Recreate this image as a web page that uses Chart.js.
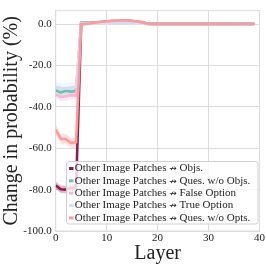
<!DOCTYPE html>
<html><head><meta charset="utf-8">
<script src="https://cdn.jsdelivr.net/npm/chart.js@4/dist/chart.umd.min.js"></script>
<style>html,body{margin:0;padding:0;background:#fff}#wrap{width:266px;height:266px;position:relative}</style>
</head><body><div id="wrap"><canvas id="c"></canvas></div>
<script>
const layers = [0,1,2,3,4,5,6,7,8,9,10,11,12,13,14,15,16,17,18,19,20,21,22,23,24,25,26,27,28,29,30,31,32,33,34,35,36,37,38,39];
const seriesLabels = [
  'Other Image Patches \u219B Objs.',
  'Other Image Patches \u219B Ques. w/o Objs.',
  'Other Image Patches \u219B False Option',
  'Other Image Patches \u219B True Option',
  'Other Image Patches \u219B Ques. w/o Opts.'
];
const seriesColors = ['#8a1d4b', '#6fc0aa', '#f8b6d6', '#d3def6', '#fd9a9a'];
const objs       = [-78.0,-79.8,-80.0,-79.2,-79.0, 0.2,0.3,0.5,0.8,1.1,1.3,1.5,1.6,1.7,1.7,1.5,1.2,0.9,0.2,0.1, 0.1,0.1,0.1,0.1,0.1,0.1,0.1,0.1,0.1,0.1, 0.1,0.1,0.1,0.1,0.1,0.1,0.1,0.1,0.1,0.1];
const quesNoObjs = [-32.0,-33.0,-32.2,-32.6,-32.2, 0.8,0.8,0.8,0.9,1.0,1.1,1.2,1.3,1.3,1.3,1.2,1.0,0.8,0.3,0.2, 0.2,0.2,0.2,0.2,0.2,0.2,0.2,0.2,0.2,0.2, 0.2,0.2,0.2,0.2,0.2,0.2,0.2,0.2,0.2,0.2];
const falseOpt   = [-34.0,-35.3,-34.8,-34.3,-34.5, 0.4,0.4,0.5,0.7,0.9,1.1,1.3,1.4,1.5,1.5,1.4,1.1,0.8,0.2,0.1, 0.1,0.1,0.1,0.1,0.1,0.1,0.1,0.1,0.1,0.1, 0.1,0.1,0.1,0.1,0.1,0.1,0.1,0.1,0.1,0.1];
const trueOpt    = [-30.2,-30.8,-31.0,-30.6,-30.3, 0.2,0.2,0.3,0.4,0.5,0.6,0.7,0.8,0.8,0.8,0.7,0.6,0.4,0.1,0.0, 0.0,0.0,0.0,0.0,0.0,0.0,0.0,0.0,0.0,0.0, 0.0,0.0,0.0,0.0,0.0,0.0,0.0,0.0,0.0,0.0];
const quesNoOpts = [-51.0,-55.5,-55.5,-57.5,-57.0, 0.0,0.2,0.5,0.9,1.2,1.4,1.6,1.7,1.8,1.8,1.6,1.3,0.9,0.2,0.1, 0.1,0.1,0.1,0.1,0.1,0.1,0.1,0.1,0.1,0.1, 0.1,0.1,0.1,0.1,0.1,0.1,0.1,0.1,0.1,0.1];
// half-widths of the shaded bands
const objsSpread       = [1.8,1.8,1.8,1.8,1.8, 0.3,0.3,0.3,0.3,0.3,0.3,0.3,0.3,0.3,0.3,0.3,0.3,0.3,0.3,0.3, 0.3,0.3,0.3,0.3,0.3,0.3,0.3,0.3,0.3,0.3, 0.3,0.3,0.3,0.3,0.3,0.3,0.3,0.3,0.3,0.3];
const quesNoObjsSpread = [1.8,1.8,1.8,1.8,1.8, 0.3,0.3,0.3,0.3,0.3,0.3,0.3,0.3,0.3,0.3,0.3,0.3,0.3,0.3,0.3, 0.3,0.3,0.3,0.3,0.3,0.3,0.3,0.3,0.3,0.3, 0.3,0.3,0.3,0.3,0.3,0.3,0.3,0.3,0.3,0.3];
const falseOptSpread   = [2.0,2.0,2.0,2.0,2.0, 0.3,0.3,0.3,0.3,0.3,0.3,0.3,0.3,0.3,0.3,0.3,0.3,0.3,0.3,0.3, 0.3,0.3,0.3,0.3,0.3,0.3,0.3,0.3,0.3,0.3, 0.3,0.3,0.3,0.3,0.3,0.3,0.3,0.3,0.3,0.3];
const trueOptSpread    = [2.5,2.5,2.5,2.5,2.5, 0.4,0.4,0.4,0.4,0.4,0.4,0.4,0.4,0.4,0.4,0.4,0.4,0.4,0.4,0.4, 0.4,0.4,0.4,0.4,0.4,0.4,0.4,0.4,0.4,0.4, 0.4,0.4,0.4,0.4,0.4,0.4,0.4,0.4,0.4,0.4];
const quesNoOptsSpread = [2.5,2.5,2.5,2.5,2.5, 0.3,0.3,0.3,0.3,0.3,0.3,0.3,0.3,0.3,0.3,0.3,0.3,0.3,0.3,0.3, 0.3,0.3,0.3,0.3,0.3,0.3,0.3,0.3,0.3,0.3, 0.3,0.3,0.3,0.3,0.3,0.3,0.3,0.3,0.3,0.3];
const yTickValues = [-100,-80,-60,-40,-20,0];
const xTickValues = [0,10,20,30,40];

const series = [objs, quesNoObjs, falseOpt, trueOpt, quesNoOpts];
const spreads = [objsSpread, quesNoObjsSpread, falseOptSpread, trueOptSpread, quesNoOptsSpread];

function hexA(h, a){const n=parseInt(h.slice(1),16);return `rgba(${n>>16&255},${n>>8&255},${n&255},${a})`;}

const datasets = [];
series.forEach((s, i) => {
  datasets.push({
    label: seriesLabels[i], isLine: true,
    data: layers.map((x, k) => ({x, y: s[k]})),
    borderColor: seriesColors[i], backgroundColor: seriesColors[i],
    borderWidth: 2.6, pointRadius: 0, tension: 0, fill: false,
    order: 5 - i
  });
});
series.forEach((s, i) => {
  datasets.push({
    label: 'band_up_' + i,
    data: layers.map((x, k) => ({x, y: s[k] + spreads[i][k]})),
    borderWidth: 0, pointRadius: 0, tension: 0,
    backgroundColor: hexA(seriesColors[i], 0.3),
    fill: '+1', order: 20 - i
  });
  datasets.push({
    label: 'band_lo_' + i,
    data: layers.map((x, k) => ({x, y: s[k] - spreads[i][k]})),
    borderWidth: 0, pointRadius: 0, tension: 0, fill: false, order: 20 - i
  });
});

const gridColor = '#dcdcdc';
const serif = '"Liberation Serif", "Times New Roman", serif';
const framePlugin = {
  id: 'frame',
  beforeDatasetsDraw(chart) {
    const {ctx, chartArea: a} = chart;
    ctx.save();
    ctx.strokeStyle = gridColor; ctx.lineWidth = 1;
    ctx.strokeRect(a.left, a.top, a.right - a.left, a.bottom - a.top);
    ctx.restore();
  }
};
const legendPlugin = {
  id: 'inlegend',
  afterDraw(chart) {
    const ctx = chart.ctx;
    const items = chart.data.datasets.filter(d => d.isLine);
    const bx = 66.5, by = 161.5, bw = 191.5, bh = 62.5, r = 2.5;
    ctx.save();
    ctx.beginPath();
    ctx.moveTo(bx + r, by); ctx.lineTo(bx + bw - r, by); ctx.arcTo(bx + bw, by, bx + bw, by + r, r);
    ctx.lineTo(bx + bw, by + bh - r); ctx.arcTo(bx + bw, by + bh, bx + bw - r, by + bh, r);
    ctx.lineTo(bx + r, by + bh); ctx.arcTo(bx, by + bh, bx, by + bh - r, r);
    ctx.lineTo(bx, by + r); ctx.arcTo(bx, by, bx + r, by, r); ctx.closePath();
    ctx.fillStyle = 'rgba(255,255,255,0.8)'; ctx.fill();
    ctx.strokeStyle = '#d0d0d0'; ctx.lineWidth = 1; ctx.stroke();
    ctx.textBaseline = 'middle'; ctx.textAlign = 'left';
    const textFont = '11px ' + serif;
    const arrowFont = '9px "DejaVu Sans"';
    items.forEach((d, i) => {
      const y = 168.5 + i * 12.35;
      ctx.strokeStyle = d.borderColor; ctx.lineWidth = 3;
      ctx.beginPath(); ctx.moveTo(69, y); ctx.lineTo(73.5, y); ctx.stroke();
      ctx.fillStyle = '#222';
      const parts = d.label.split('\u219B');
      let x = 74.8;
      ctx.font = textFont; ctx.fillText(parts[0], x, y); x += ctx.measureText(parts[0]).width;
      ctx.font = arrowFont; ctx.fillText('\u219B', x, y + 0.5); x += ctx.measureText('\u219B').width;
      ctx.font = textFont; ctx.fillText(parts[1], x, y);
    });
    ctx.restore();
  }
};

new Chart(document.getElementById('c'), {
  type: 'line',
  data: { datasets },
  options: {
    responsive: true, maintainAspectRatio: false, animation: false,
    layout: { autoPadding: false, padding: { top: 1.5, right: 5.5, bottom: 0, left: 0 } },
    plugins: { legend: { display: false }, tooltip: { enabled: false } },
    scales: {
      x: {
        type: 'linear', min: 0, max: 40,
        afterBuildTicks: s => { s.ticks = xTickValues.map(v => ({value: v})); },
        afterFit: s => { s.height = 35; },
        grid: { color: gridColor, drawTicks: false, lineWidth: 1 },
        border: { color: gridColor },
        ticks: { padding: 1, color: '#222', font: { family: serif, size: 11 }, maxRotation: 0, callback: v => String(v) },
        title: { display: true, text: 'Layer', color: '#222', padding: 0, font: { family: serif, size: 20, lineHeight: 1.2 } }
      },
      y: {
        min: -100, max: 6.6,
        afterBuildTicks: s => { s.ticks = yTickValues.map(v => ({value: v})); },
        afterFit: s => { s.width = 55.7; },
        grid: { color: gridColor, drawTicks: false, lineWidth: 1 },
        border: { color: gridColor },
        ticks: { padding: 4, color: '#222', font: { family: serif, size: 11 }, callback: v => Number(v).toFixed(1) },
        title: { display: true, text: 'Change in probability (%)', color: '#222', padding: 0, font: { family: serif, size: 20, lineHeight: 1.2 } }
      }
    }
  },
  plugins: [framePlugin, legendPlugin]
});
</script></body></html>
